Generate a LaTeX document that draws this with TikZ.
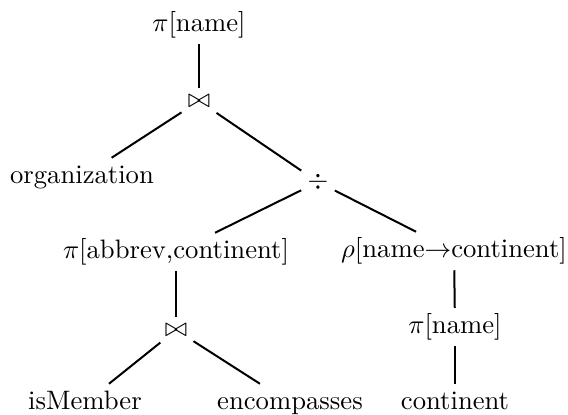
\documentclass[tikz,border=0pt]{standalone}
\usepackage{amsmath,amssymb}
\usepackage{xcolor}
\usepackage{tikz}
\usetikzlibrary{calc}
\tikzset{
  edge/.style={draw=black, line width=0.75pt},
  op/.style={text=black, inner sep=2.6pt, text height=1.6ex, text depth=0.45ex},
  sym/.style={text=black, inner sep=2.2pt},
  rel/.style={text=black, inner sep=2.6pt, text height=1.6ex, text depth=0.45ex}
}

\begin{document}
\begin{tikzpicture}[x=0.375pt, y=-0.375pt]
  \useasboundingbox (0,0) rectangle (568,414);

  % query tree, top to bottom
  \node[op]  (proj)  at (199,25)  {$\pi$[name]};
  \node[sym] (join)  at (199,101) {$\bowtie$};
  \node[rel] (org)   at (82,177)  {organization};
  \node[sym] (div)   at (318,182) {$\div$};
  \node[op]  (projb) at (176,252) {$\pi$[abbrev,continent]};
  \node[op]  (ren)   at (454,251) {$\rho$[name$\rightarrow$continent]};
  \node[sym] (joinb) at (176,330) {$\bowtie$};
  \node[op]  (projc) at (455,327) {$\pi$[name]};
  \node[rel] (ism)   at (85,403)  {isMember};
  \node[rel] (enc)   at (290,403) {encompasses};
  \node[rel] (cont)  at (455,403) {continent};

  \draw[edge] (proj) -- (join);
  \draw[edge] (join) -- (org);
  \draw[edge] (join) -- (div);
  \draw[edge] (div) -- (projb);
  \draw[edge] (div) -- (ren);
  \draw[edge] (projb) -- (joinb);
  \draw[edge] (joinb) -- (ism);
  \draw[edge] (joinb) -- (enc);
  \draw[edge] (ren) -- (projc);
  \draw[edge] (projc) -- (cont);
\end{tikzpicture}
\end{document}
